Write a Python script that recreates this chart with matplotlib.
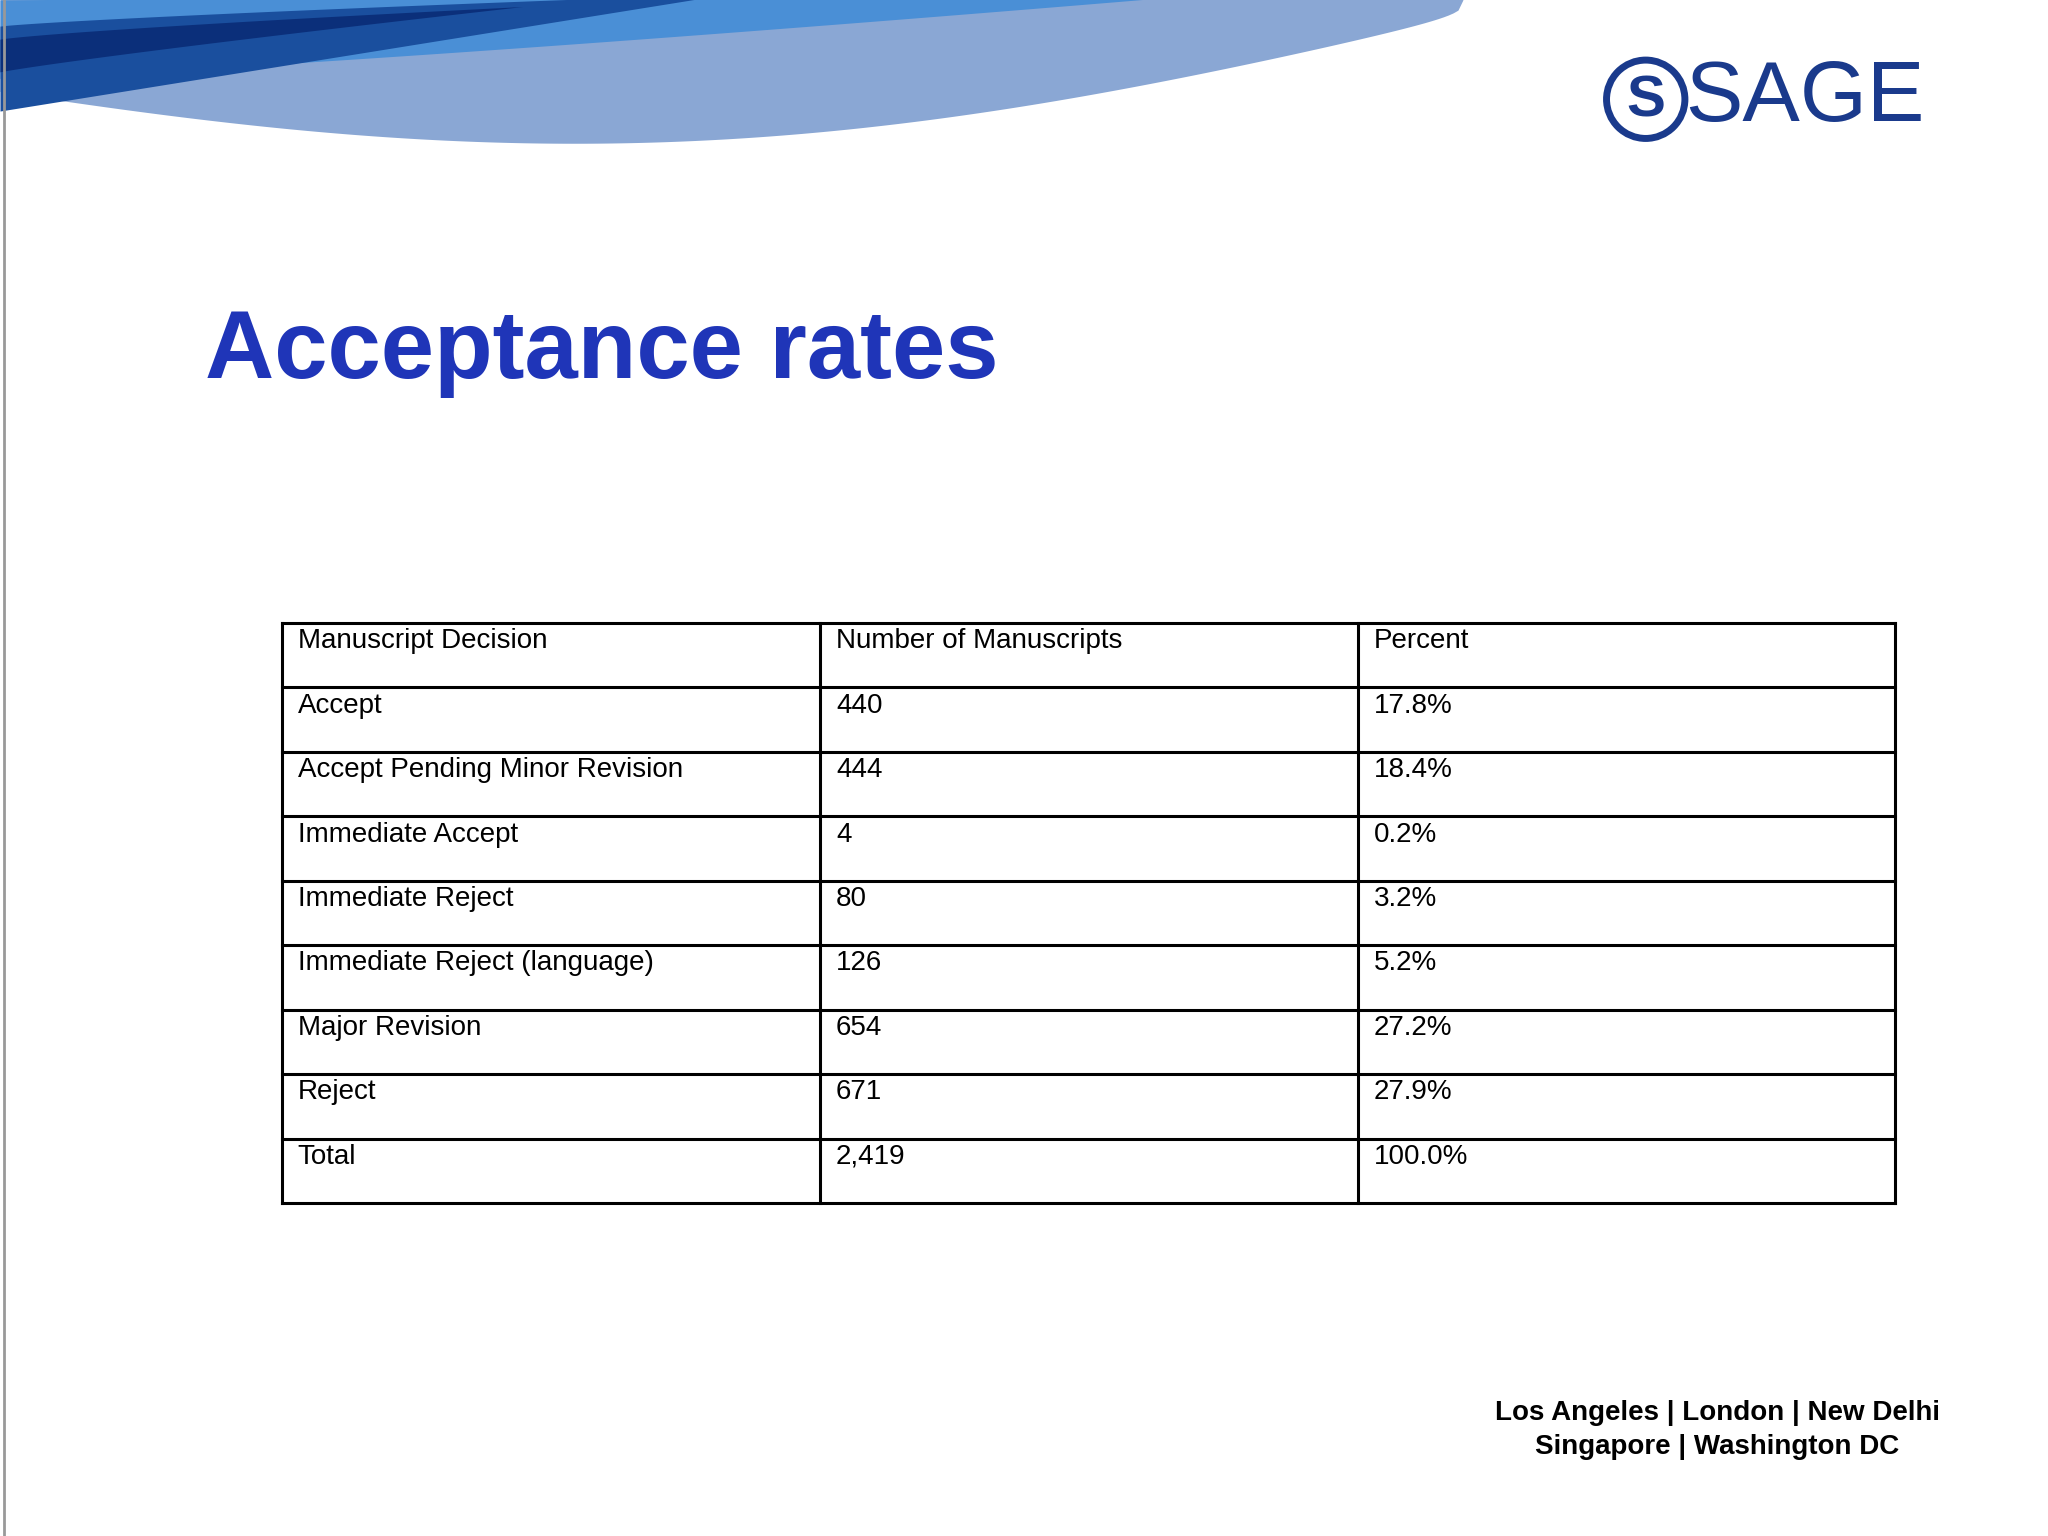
import numpy as np
import matplotlib.pyplot as plt
from matplotlib.patches import Circle

title = "Acceptance rates"
headers = ["Manuscript Decision", "Number of Manuscripts", "Percent"]
decisions = ["Accept", "Accept Pending Minor Revision", "Immediate Accept",
             "Immediate Reject", "Immediate Reject (language)", "Major Revision",
             "Reject", "Total"]
counts = ["440", "444", "4", "80", "126", "654", "671", "2,419"]
percents = ["17.8%", "18.4%", "0.2%", "3.2%", "5.2%", "27.2%", "27.9%", "100.0%"]
footer = ["Los Angeles | London | New Delhi", "Singapore | Washington DC"]

W, H = 1568, 1176
fig = plt.figure(figsize=(20.48, 15.36), dpi=100)
ax = fig.add_axes([0, 0, 1, 1])
ax.set_xlim(0, W)
ax.set_ylim(H, 0)
ax.axis("off")

# top swooshes
def band(x0, x1, y_top0, y_bot0, y1, color, bend=1.6):
    xs = np.linspace(x0, x1, 200)
    t = (xs - x0) / (x1 - x0)
    top = y_top0 + (y1 - y_top0) * t ** 0.8
    bot = y_bot0 + (y1 - y_bot0) * t ** bend
    ax.fill_between(xs, top, bot, color=color, lw=0)

xs = np.linspace(0, 1120, 300)
t = xs / 1120
ax.fill_between(xs, -5 + 0 * t, 70 + 90 * np.sin(np.pi * t * 0.85) * (1 - t) ** 0.3 - 70 * t,
                color="#8aa7d4", lw=0)
band(0, 930, 0, 60, -5, "#4a8fd6", bend=1.2)
band(0, 560, 20, 85, -5, "#1a4f9e", bend=1.0)
band(0, 400, 30, 55, 5, "#0b2f7a", bend=0.9)
ax.plot([3, 3], [0, H], color="#999999", lw=2)

# logo
ax.add_patch(Circle((1260, 76), 30, fill=False, ec="#1a3a8c", lw=5))
ax.text(1260, 78, "S", color="#1a3a8c", fontsize=42, fontweight="bold",
        ha="center", va="center", family="Liberation Sans")
ax.text(1290, 76, "SAGE", color="#1a3a8c", fontsize=62, ha="left", va="center",
        family="Liberation Sans")

ax.text(157, 270, title, color="#1f35b8", fontsize=69, fontweight="bold",
        ha="left", va="center", family="Liberation Sans")

# table
left, right, top, bottom = 216, 1451, 477, 921
cols = [left, 628, 1040, right]
rows = [headers] + [list(r) for r in zip(decisions, counts, percents)]
rh = (bottom - top) / len(rows)
for i in range(len(rows) + 1):
    ax.plot([left, right], [top + i * rh] * 2, color="black", lw=2.2)
for c in cols:
    ax.plot([c, c], [top, bottom], color="black", lw=2.2)
for i, r in enumerate(rows):
    for j, val in enumerate(r):
        ax.text(cols[j] + 12, top + i * rh + 4, val, fontsize=20, ha="left", va="top",
                family="Liberation Sans")

ax.text(1315, 1082, footer[0], fontsize=20, fontweight="bold", ha="center", va="center",
        family="Liberation Sans")
ax.text(1315, 1108, footer[1], fontsize=20, fontweight="bold", ha="center", va="center",
        family="Liberation Sans")

fig.savefig("out.png", dpi=100, facecolor="white")
